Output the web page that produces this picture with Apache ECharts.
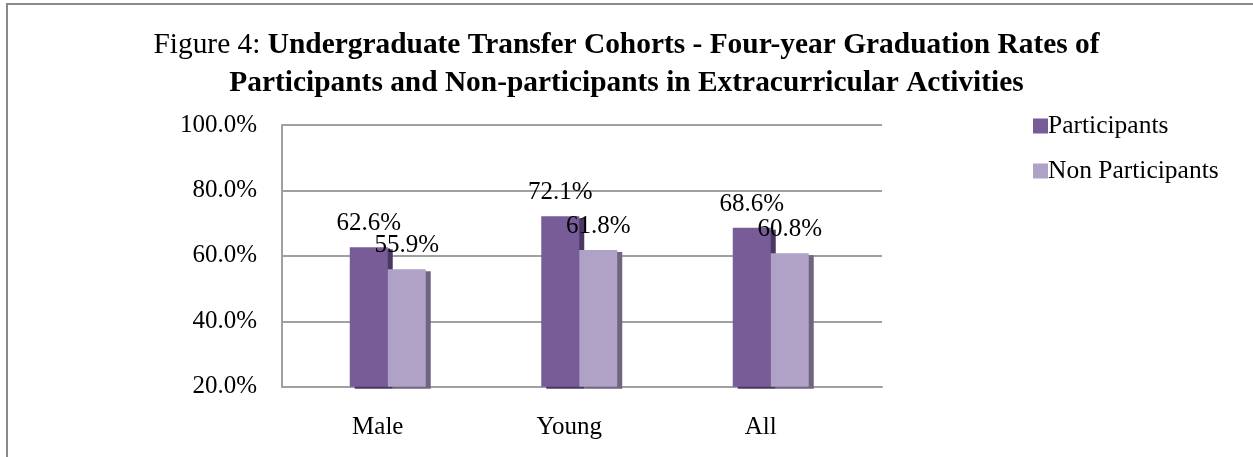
<!DOCTYPE html>
<html>
<head>
<meta charset="utf-8">
<script src="https://cdn.jsdelivr.net/npm/echarts@6/dist/echarts.min.js"></script>
<style>
    html, body { margin: 0; padding: 0; background: #fff; }
    #chart { width: 1253px; height: 457px; }
</style>
</head>
<body>
<div id="chart"></div>
<script>
    const categories = ['Male', 'Young', 'All'];
    const participants = [62.6, 72.1, 68.6];
    const nonParticipants = [55.9, 61.8, 60.8];
    const yMin = 20, yMax = 100, yStep = 20;

    const font = '"Liberation Serif", "Times New Roman", serif';
    const gray = '#a0a0a0';

    let chart = echarts.init(document.getElementById('chart'));
    let pct = v => v.toFixed(1) + '%';

    // grid 0 = back wall (gridlines, y labels), grid 1 = bars + category labels (3d depth shift)
    let options = {
        backgroundColor: '#fff',
        animation: false,
        title: {
            left: 'center',
            top: 21,
            text: '{n|Figure 4: }{b|Undergraduate Transfer Cohorts - Four-year Graduation Rates of}\n{b|Participants and Non-participants in Extracurricular Activities}',
            textStyle: {
                fontFamily: font,
                fontSize: 29.4,
                fontWeight: 'normal',
                color: '#000',
                lineHeight: 38,
                rich: {
                    n: { fontFamily: font, fontSize: 29.4, fontWeight: 'normal', color: '#000', lineHeight: 38 },
                    b: { fontFamily: font, fontSize: 29.4, fontWeight: 'bold', color: '#000', lineHeight: 38 }
                }
            }
        },
        legend: {
            orient: 'vertical',
            left: 1028,
            top: 108,
            itemWidth: 15,
            itemHeight: 15,
            itemGap: 19,
            icon: 'rect',
            data: ['Participants', 'Non Participants'],
            textStyle: { fontFamily: font, fontSize: 25.5, color: '#000', padding: [0, 0, 0, -5] }
        },
        graphic: [
            {
                // outer frame of the figure
                type: 'rect',
                shape: { x: 7, y: 4, width: 1400, height: 600 },
                style: { fill: 'none', stroke: '#8a8a8a', lineWidth: 2 },
                silent: true
            }
        ],
        grid: [
            { left: 282, top: 125, width: 600, height: 261.7 },
            { left: 292, top: 125, width: 574.5, height: 261.7 }
        ],
        xAxis: [
            {
                type: 'category',
                gridIndex: 0,
                data: categories,
                axisTick: { show: false },
                axisLine: { show: true, lineStyle: { color: gray, width: 2 } },
                axisLabel: { show: false }
            },
            {
                type: 'category',
                gridIndex: 1,
                data: categories,
                axisTick: { show: false },
                axisLine: { show: false },
                axisLabel: {
                    color: '#000',
                    fontFamily: font,
                    fontSize: 25,
                    margin: 28,
                    padding: [0, 20, 0, 0]
                }
            }
        ],
        yAxis: [
            {
                type: 'value',
                gridIndex: 0,
                min: yMin,
                max: yMax,
                interval: yStep,
                axisTick: { show: false },
                axisLine: { show: true, lineStyle: { color: gray, width: 2 } },
                axisLabel: { color: '#000', fontFamily: font, fontSize: 25, margin: 25, formatter: pct },
                splitLine: { lineStyle: { color: gray, width: 2 } }
            },
            {
                type: 'value',
                gridIndex: 1,
                min: yMin,
                max: yMax,
                interval: yStep,
                show: false,
                splitLine: { show: false }
            }
        ],
        series: [
            {
                name: 'Participants',
                type: 'bar',
                xAxisIndex: 1,
                yAxisIndex: 1,
                barWidth: 38,
                barGap: '0%',
                data: participants,
                itemStyle: {
                    color: '#775c98',
                    shadowColor: '#4a3862',
                    shadowOffsetX: 5,
                    shadowOffsetY: 2,
                    shadowBlur: 0
                },
                label: {
                    show: true,
                    position: 'top',
                    distance: 11,
                    color: '#000',
                    fontFamily: font,
                    fontSize: 25,
                    formatter: p => pct(p.value)
                }
            },
            {
                name: 'Non Participants',
                type: 'bar',
                xAxisIndex: 1,
                yAxisIndex: 1,
                barWidth: 38,
                barGap: '0%',
                data: nonParticipants,
                itemStyle: {
                    color: '#b0a1c7',
                    shadowColor: '#6f6580',
                    shadowOffsetX: 5,
                    shadowOffsetY: 2,
                    shadowBlur: 0
                },
                label: {
                    show: true,
                    position: 'top',
                    distance: 11,
                    color: '#000',
                    fontFamily: font,
                    fontSize: 25,
                    formatter: p => pct(p.value)
                }
            }
        ]
    };
    chart.setOption(options);
</script>
</body>
</html>
